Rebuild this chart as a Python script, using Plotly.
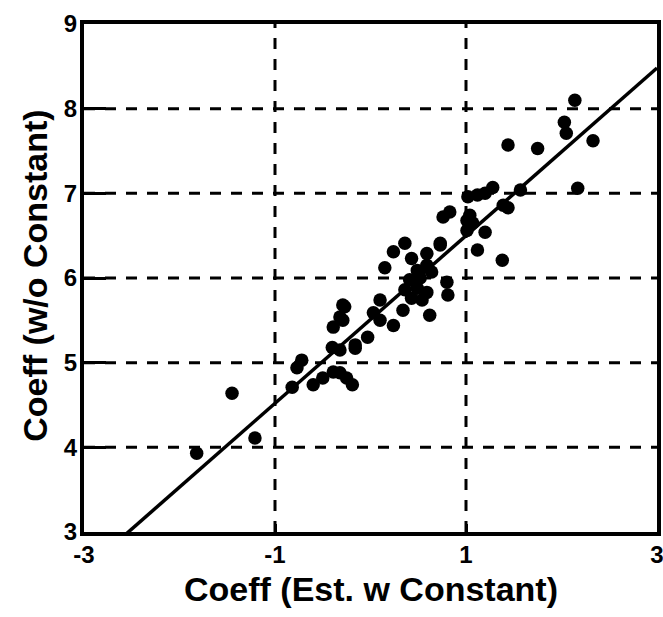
import numpy as np
import plotly.graph_objects as go

# Scatter points: coefficient estimated with constant (x)
# versus coefficient without constant (y)
coeff_with_const = [
    2.14, 2.03, 2.05, 2.33, 1.44, 1.75, 2.17, 1.57, 1.28, 1.20,
    1.12, 1.02, 1.44, 1.39, 1.04, 1.01, 1.07, 0.83, 0.76, 1.20,
    1.01, 0.73, 1.12, 1.38, 0.73, 0.36, 0.24, 0.43, 0.59, 0.15,
    0.49, 0.59, 0.41, 0.52, 0.64, 0.80, 0.49, 0.36, 0.59, 0.81,
    0.43, 0.54, 0.10, 0.34, 0.62, 0.03, -0.27, -0.32, 0.24, 0.10,
    -0.03, -0.16, -0.29, -0.29, -0.39, -0.40, -0.32, -0.16, -0.72, -0.77,
    -0.82, -0.60, -0.50, -0.39, -0.32, -0.25, -0.19, -1.45, -1.21, -1.82,
]
coeff_without_const = [
    8.10, 7.84, 7.71, 7.62, 7.57, 7.53, 7.06, 7.04, 7.07, 7.00,
    6.98, 6.96, 6.83, 6.86, 6.74, 6.68, 6.65, 6.78, 6.72, 6.54,
    6.56, 6.39, 6.33, 6.21, 6.41, 6.41, 6.31, 6.23, 6.29, 6.12,
    6.09, 6.15, 5.98, 6.00, 6.07, 5.95, 5.88, 5.86, 5.83, 5.80,
    5.76, 5.74, 5.74, 5.62, 5.56, 5.59, 5.66, 5.54, 5.44, 5.50,
    5.30, 5.21, 5.68, 5.50, 5.42, 5.18, 5.15, 5.17, 5.03, 4.94,
    4.71, 4.74, 4.82, 4.89, 4.88, 4.82, 4.74, 4.64, 4.11, 3.93,
]

# Fitted line
line_intercept = 5.51
line_slope = 0.99

x_range = [-3, 3]
y_range = [3, 9]
x_ticks = [-3, -1, 1, 3]
y_ticks = [3, 4, 5, 6, 7, 8, 9]

line_x = np.array(x_range, dtype=float)
line_y = line_intercept + line_slope * line_x

fig = go.Figure()

grid_style = dict(color="black", width=3, dash="11px,10px")
for xv in x_ticks[1:-1]:
    fig.add_shape(type="line", xref="x", yref="y", x0=xv, x1=xv, y0=y_range[0], y1=y_range[1],
                  line=grid_style, layer="below")
for yv in y_ticks[1:-1]:
    fig.add_shape(type="line", xref="x", yref="y", x0=x_range[0], x1=x_range[1], y0=yv, y1=yv,
                  line=grid_style, layer="below")

fig.add_trace(go.Scatter(
    x=line_x, y=line_y, mode="lines",
    line=dict(color="black", width=3.5), showlegend=False, hoverinfo="skip",
))
fig.add_trace(go.Scatter(
    x=coeff_with_const, y=coeff_without_const, mode="markers",
    marker=dict(color="black", size=13.5, line=dict(width=0)), showlegend=False,
))

axis_font = dict(family="Liberation Sans, Arial, sans-serif", size=24, color="black")

common_axis = dict(
    showgrid=False, zeroline=False, automargin=False,
    showline=True, linecolor="black", linewidth=4, mirror=True,
    ticks="inside", tickwidth=3, tickcolor="black", tickfont=axis_font,
    ticklabeloverflow="allow",
)
fig.update_xaxes(
    range=x_range, tickvals=x_ticks, ticktext=[f"<b>{v}</b>" for v in x_ticks],
    ticklen=8, ticklabelstandoff=-2, **common_axis,
)
fig.update_yaxes(
    range=y_range, tickvals=y_ticks, ticktext=[f"<b>{v}</b>" for v in y_ticks],
    ticklen=22, ticklabelstandoff=-2, **common_axis,
)

title_font = dict(family="Liberation Sans, Arial, sans-serif", size=34, color="black")
fig.add_annotation(
    text="<b>Coeff (Est. w Constant)</b>", xref="paper", yref="paper",
    x=0.50, y=-0.112, xanchor="center", yanchor="middle", showarrow=False, font=title_font,
)
fig.add_annotation(
    text="<b>Coeff (w/o Constant)</b>", xref="paper", yref="paper",
    x=-0.085, y=0.505, xanchor="center", yanchor="middle", showarrow=False,
    textangle=-90, font=title_font,
)

fig.update_layout(
    width=663, height=617,
    margin=dict(l=84, r=6, t=24, b=85, autoexpand=False),
    paper_bgcolor="white", plot_bgcolor="white",
    font=dict(family="Liberation Sans, Arial, sans-serif", color="black"),
)

# remove the default 8px page margin so the figure sits at the window's top-left
fig.write_html(
    "out.html",
    config={"displayModeBar": False},
    post_script="document.body.style.margin='0';document.body.style.overflow='hidden';",
)
